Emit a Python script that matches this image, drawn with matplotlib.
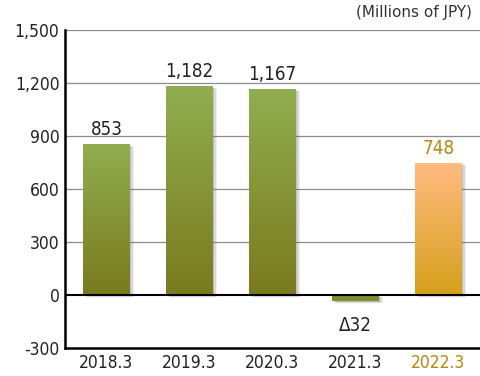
import matplotlib
matplotlib.use("Agg")
import matplotlib.pyplot as plt
import numpy as np
from matplotlib.colors import LinearSegmentedColormap
from matplotlib.patches import Rectangle

plt.rcParams['font.family'] = ['DejaVu Sans']
plt.rcParams['font.stretch'] = 'condensed'

categories = ["2018.3", "2019.3", "2020.3", "2021.3", "2022.3"]
values = [853, 1182, 1167, -32, 748]
labels = ["853", "1,182", "1,167", "Δ32", "748"]
yticks = [-300, 0, 300, 600, 900, 1200, 1500]
ytick_labels = ["-300", "0", "300", "600", "900", "1,200", "1,500"]
highlight = [False, False, False, False, True]

fig = plt.figure(figsize=(4.8, 3.76), dpi=100)
ax = fig.add_axes([65/480, 1-348/376, 415/480, (348-30)/376])

x = np.arange(len(categories))
width = 0.56
ax.set_xlim(-0.5, 4.5)
ax.set_ylim(-300, 1500)

green = LinearSegmentedColormap.from_list("g", ["#7a7a1e", "#90ae50"])
orange = LinearSegmentedColormap.from_list("o", ["#d6a01a", "#ffbb82"])
grad = np.linspace(0, 1, 256).reshape(-1, 1)

for xi, v, hl in zip(x, values, highlight):
    lo, hi = min(0, v), max(0, v)
    # soft shadow
    for k, a in enumerate([0.25, 0.18, 0.1]):
        sh = Rectangle((xi - width/2 + 0.02 + 0.015*k, lo - 8 - 3*k), width, hi - lo,
                       facecolor="#707070", edgecolor="none", alpha=a, zorder=2)
        ax.add_patch(sh)
    rect = Rectangle((xi - width/2, lo), width, hi - lo, facecolor="none", edgecolor="none", zorder=3)
    ax.add_patch(rect)
    cmap = orange if hl else green
    if v >= 0:
        im = ax.imshow(grad, cmap=cmap, origin="lower", aspect="auto",
                       extent=[xi - width/2, xi + width/2, lo, hi], zorder=3)
    else:
        im = ax.imshow(np.full((2, 1), 0.35), cmap=cmap, vmin=0, vmax=1, origin="lower",
                       aspect="auto", extent=[xi - width/2, xi + width/2, lo, hi], zorder=3)
    im.set_clip_path(rect)

ax.set_xlim(-0.5, 4.5)
ax.set_ylim(-300, 1500)

for yv in yticks[1:]:
    if yv == 0:
        continue
    ax.axhline(yv, color="#8c8c8c", lw=0.9, zorder=1)
ax.axhline(0, color="black", lw=1.5, zorder=4)

for xi, v, lab, hl in zip(x, values, labels, highlight):
    col = "#b8860b" if hl else "#222222"
    if v >= 0:
        ax.text(xi, v + 30, lab, ha="center", va="bottom", fontsize=13.5, color=col)
    else:
        ax.text(xi, v - 85, lab, ha="center", va="top", fontsize=13.5, color=col)

ax.set_yticks(yticks)
ax.set_yticklabels(ytick_labels, fontsize=12.5, color="#222222")
ax.set_xticks(x)
ax.set_xticklabels(categories, fontsize=12.5, color="#222222")
for t, hl in zip(ax.get_xticklabels(), highlight):
    if hl:
        t.set_color("#b8860b")
ax.tick_params(length=0, pad=4)
for s in ["top", "right"]:
    ax.spines[s].set_visible(False)
ax.spines["left"].set_linewidth(1.8)
ax.spines["bottom"].set_linewidth(1.8)

fig.text(472/480, 1-12/376, "(Millions of JPY)", ha="right", va="center", fontsize=11,
         color="#333333", family=["DejaVu Sans"], stretch="normal")

fig.savefig("out.png", dpi=100)
